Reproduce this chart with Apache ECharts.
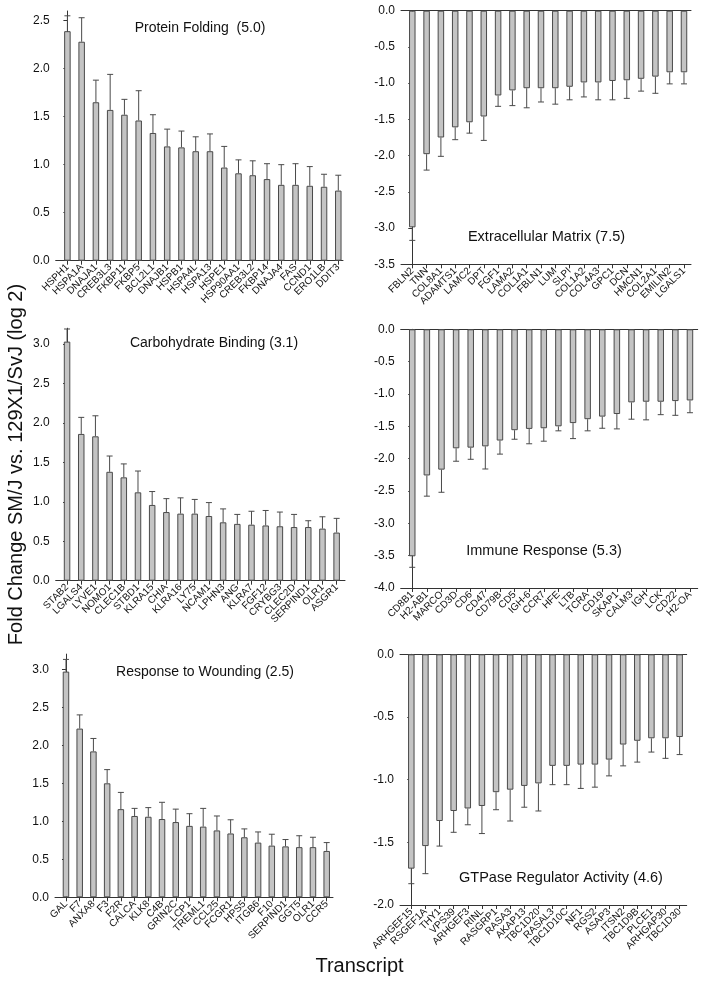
<!DOCTYPE html>
<html>
<head>
<meta charset="utf-8">
<script src="https://cdn.jsdelivr.net/npm/echarts@6/dist/echarts.min.js"></script>
<style>
html,body{margin:0;padding:0;background:#fff;}
#chart{width:702px;height:981px;}
</style>
</head>
<body>
<div id="chart"></div>
<script>
// ---------- DATA ----------
const pfCats = ['HSPH1','HSPA1A','DNAJA1','CREB3L3','FKBP11','FKBP5','BCL2L1','DNAJB1','HSPB1','HSPA4L','HSPA13','HSPE1','HSP90AA1','CREB3L2','FKBP14','DNAJA4','FAS','CCND1','ERO1LB','DDIT3'];
const pfVals = [2.39,2.28,1.65,1.57,1.52,1.46,1.33,1.19,1.18,1.14,1.14,0.97,0.91,0.89,0.85,0.79,0.79,0.78,0.77,0.73];
const pfErrs = [0.16,0.25,0.23,0.37,0.16,0.31,0.19,0.18,0.17,0.15,0.18,0.22,0.14,0.15,0.16,0.21,0.22,0.20,0.13,0.16];

const ecmCats = ['FBLN2','TNN','COL8A1','ADAMTS1','LAMC2','DPT','FGF1','LAMA2','COL1A1','FBLN1','LUM','SLPI','COL1A2','COL4A3','GPC1','DCN','HMCN1','COL2A1','EMILIN2','LGALS1'];
const ecmVals = [-2.99,-1.98,-1.75,-1.61,-1.54,-1.46,-1.17,-1.10,-1.07,-1.07,-1.07,-1.05,-0.99,-0.99,-0.97,-0.96,-0.94,-0.91,-0.85,-0.85];
const ecmErrs = [0.18,0.22,0.26,0.17,0.15,0.33,0.15,0.21,0.27,0.19,0.22,0.18,0.20,0.24,0.26,0.25,0.17,0.23,0.16,0.16];

const cbCats = ['STAB2','LGALS4','LYVE1','NOMO1','CLEC1B','STBD1','KLRA15','CHIA','KLRA16','LY75','NCAM1','LPHN3','ANG','KLRA7','FGF12','CRYBG3','CLEC2D','SERPIND1','OLR1','ASGR1'];
const cbVals = [3.03,1.86,1.83,1.38,1.31,1.12,0.96,0.87,0.85,0.85,0.82,0.74,0.72,0.71,0.70,0.69,0.68,0.68,0.66,0.61];
const cbErrs = [0.16,0.21,0.26,0.20,0.17,0.27,0.17,0.17,0.20,0.18,0.17,0.17,0.12,0.17,0.19,0.18,0.16,0.08,0.15,0.18];

const irCats = ['CD8B1','H2-AB1','MARCO','CD3D','CD6','CD47','CD79B','CD5','IGH-6','CCR7','HFE','LTB','TCRA','CD19','SKAP1','CALM3','IGH','LCK','CD22','H2-OA'];
const irVals = [-3.51,-2.26,-2.17,-1.84,-1.83,-1.81,-1.72,-1.56,-1.54,-1.53,-1.50,-1.45,-1.39,-1.35,-1.31,-1.13,-1.12,-1.12,-1.11,-1.10];
const irErrs = [0.17,0.32,0.35,0.20,0.18,0.35,0.21,0.14,0.23,0.20,0.07,0.24,0.18,0.18,0.23,0.26,0.28,0.20,0.22,0.19];

const rwCats = ['GAL','F7','ANXA8','F3','F2R','CALCA','KLK8','C4B','GRIN2C','LCP1','TREML1','CCL25','FCGR1','HPS5','ITGB6','F10','SERPIND1','GGT5','OLR1','CCR5'];
const rwVals = [2.97,2.22,1.92,1.50,1.16,1.07,1.06,1.03,0.99,0.94,0.93,0.88,0.84,0.79,0.72,0.68,0.67,0.66,0.66,0.61];
const rwErrs = [0.16,0.18,0.17,0.18,0.22,0.10,0.12,0.22,0.17,0.16,0.24,0.19,0.18,0.11,0.14,0.15,0.09,0.15,0.13,0.11];

const gtCats = ['ARHGEF15','RSGEF1A','THY1','VPS39','ARHGEF3','RINL','RASGRP1','RASA3','AKAP13','TBC1D20','RASAL3','TBC1D10C','NF1','RGS2','ASAP3','ITSN2','TBC1D9B','PLCE1','ARHGAP30','TBC1D30'];
const gtVals = [-1.71,-1.53,-1.33,-1.25,-1.23,-1.21,-1.10,-1.08,-1.05,-1.03,-0.89,-0.89,-0.88,-0.88,-0.84,-0.72,-0.69,-0.67,-0.67,-0.66];
const gtErrs = [0.12,0.22,0.20,0.17,0.13,0.22,0.14,0.25,0.17,0.22,0.15,0.15,0.19,0.18,0.13,0.17,0.17,0.11,0.16,0.14];

const posTicks26 = [0,0.5,1.0,1.5,2.0,2.5];
const posTicks32 = [0,0.5,1.0,1.5,2.0,2.5,3.0];
const negTicks35 = [-3.5,-3.0,-2.5,-2.0,-1.5,-1.0,-0.5,0];
const negTicks40 = [-4.0,-3.5,-3.0,-2.5,-2.0,-1.5,-1.0,-0.5,0];
const negTicks20 = [-2.0,-1.5,-1.0,-0.5,0];

const titles = ['Protein Folding  (5.0)','Extracellular Matrix (7.5)','Carbohydrate Binding (3.1)','Immune Response (5.3)','Response to Wounding (2.5)','GTPase Regulator Activity (4.6)'];
const yTitle = 'Fold Change SM/J vs. 129X1/SvJ (log 2)';
const xTitle = 'Transcript';

// ---------- LAYOUT ----------
const FONT = '"Liberation Sans", Arial, Helvetica, sans-serif';
const panels = [
  {cats:pfCats, vals:pfVals, errs:pfErrs, ticks:posTicks26, ymin:0, ymax:2.6, grid:{left:55.7,top:11,width:287.3,height:249.7}, xmin:-0.82, xmax:19.33, neg:false,
   title:{x:200,y:28,size:14}},
  {cats:ecmCats, vals:ecmVals, errs:ecmErrs, ticks:negTicks35, ymin:-3.5, ymax:0, grid:{left:401,top:10.7,width:290,height:253.6}, xmin:-0.79, xmax:19.49, neg:true,
   title:{x:546.5,y:236.5,size:14.5}},
  {cats:cbCats, vals:cbVals, errs:cbErrs, ticks:posTicks32, ymin:0, ymax:3.2, grid:{left:55.7,top:328.2,width:289.3,height:252.5}, xmin:-0.80, xmax:19.59, neg:false,
   title:{x:214,y:343.5,size:14}},
  {cats:irCats, vals:irVals, errs:irErrs, ticks:negTicks40, ymin:-4.0, ymax:0, grid:{left:400.7,top:329.3,width:297,height:258.7}, xmin:-0.79, xmax:19.53, neg:true,
   title:{x:544,y:550.5,size:14.5}},
  {cats:rwCats, vals:rwVals, errs:rwErrs, ticks:posTicks32, ymin:0, ymax:3.2, grid:{left:55,top:654.1,width:278,height:243.2}, xmin:-0.80, xmax:19.46, neg:false,
   title:{x:205,y:672,size:14}},
  {cats:gtCats, vals:gtVals, errs:gtErrs, ticks:negTicks20, ymin:-2.0, ymax:0, grid:{left:400,top:654.3,width:286.7,height:250.7}, xmin:-0.80, xmax:19.50, neg:true,
   title:{x:561,y:877.5,size:14.5}}
];

const AXIS_COLOR = '#333';
const grids = [], xAxes = [], yAxes = [], series = [], graphics = [];

function labelCfg(p, values) {
  return {show:true, customValues:values, rotate:45, margin:5, fontSize:10, color:'#111', fontFamily:FONT,
    showMinLabel:true, showMaxLabel:true, hideOverlap:false,
    formatter:(v) => p.cats[Math.round(v)] || ''};
}

panels.forEach((p, k) => {
  const idx = p.cats.map((c, i) => i);
  const evenIdx = idx.filter(i => i % 2 === 0);
  const oddIdx = idx.filter(i => i % 2 === 1);
  grids.push(Object.assign({containLabel:false}, p.grid));
  const xBottomIndex = xAxes.length;
  // main bottom axis: line, all ticks, even-index labels
  xAxes.push({
    gridIndex:k, type:'value', position:'bottom', min:p.xmin, max:p.xmax,
    axisLine:{show:true, onZero:false, lineStyle:{color:AXIS_COLOR, width:1}},
    axisTick:{show:true, customValues:idx, length:4, lineStyle:{color:AXIS_COLOR}},
    axisLabel:labelCfg(p, evenIdx),
    splitLine:{show:false}
  });
  // companion bottom axis: odd-index labels only
  xAxes.push({
    gridIndex:k, type:'value', position:'bottom', offset:0, min:p.xmin, max:p.xmax,
    axisLine:{show:false, onZero:false}, axisTick:{show:false},
    axisLabel:labelCfg(p, oddIdx),
    splitLine:{show:false}
  });
  if (p.neg) {
    xAxes.push({
      gridIndex:k, type:'value', position:'top', min:p.xmin, max:p.xmax,
      axisLine:{show:true, onZero:false, lineStyle:{color:AXIS_COLOR, width:1}},
      axisTick:{show:false}, axisLabel:{show:false}, splitLine:{show:false}
    });
  }
  yAxes.push({
    gridIndex:k, type:'value', min:p.ymin, max:p.ymax,
    axisLine:{show:true, lineStyle:{color:AXIS_COLOR, width:1}},
    axisTick:{show:true, customValues:p.ticks, length:4, lineStyle:{color:AXIS_COLOR}},
    axisLabel:{show:true, customValues:p.ticks, margin:6, fontSize:12, color:'#111', fontFamily:FONT,
      showMinLabel:true, showMaxLabel:true,
      formatter:(v) => Number(v).toFixed(1)},
    splitLine:{show:false}
  });
  series.push({
    type:'bar', xAxisIndex:xBottomIndex, yAxisIndex:k, barWidth:6.5,
    data:p.vals.map((v, i) => [i, v]),
    itemStyle:{color:'#c4c4c4', borderColor:'#4a4a4a', borderWidth:1},
    silent:true, animation:false
  });
  series.push({
    type:'custom', xAxisIndex:xBottomIndex, yAxisIndex:k,
    data:p.vals.map((v, i) => [i, v, p.errs[i]]),
    renderItem:(params, api) => {
      const x = api.value(0), v = api.value(1), e = api.value(2);
      const end = v < 0 ? v - e : v + e;
      const a = api.coord([x, v]);
      const b = api.coord([x, end]);
      const cap = 3;
      const st = {stroke:'#4a4a4a', lineWidth:1};
      return {type:'group', children:[
        {type:'line', shape:{x1:a[0], y1:a[1], x2:b[0], y2:b[1]}, style:st},
        {type:'line', shape:{x1:b[0]-cap, y1:b[1], x2:b[0]+cap, y2:b[1]}, style:st}
      ]};
    },
    silent:true, animation:false, z:3
  });
  graphics.push({type:'text', x:p.title.x, y:p.title.y,
    style:{text:titles[k], font:`${p.title.size}px ${FONT}`, fill:'#111', textAlign:'center', textVerticalAlign:'middle'}});
});

graphics.push({type:'text', x:16, y:464.5, rotation:Math.PI/2,
  style:{text:yTitle, font:`20px ${FONT}`, fill:'#111', textAlign:'center', textVerticalAlign:'middle'}});
graphics.push({type:'text', x:359.5, y:966,
  style:{text:xTitle, font:`20px ${FONT}`, fill:'#111', textAlign:'center', textVerticalAlign:'middle'}});

const chart = echarts.init(document.getElementById('chart'), null, {renderer:'canvas'});
chart.setOption({
  animation:false,
  backgroundColor:'#fff',
  grid:grids, xAxis:xAxes, yAxis:yAxes, series:series, graphic:graphics
});
</script>
</body>
</html>
